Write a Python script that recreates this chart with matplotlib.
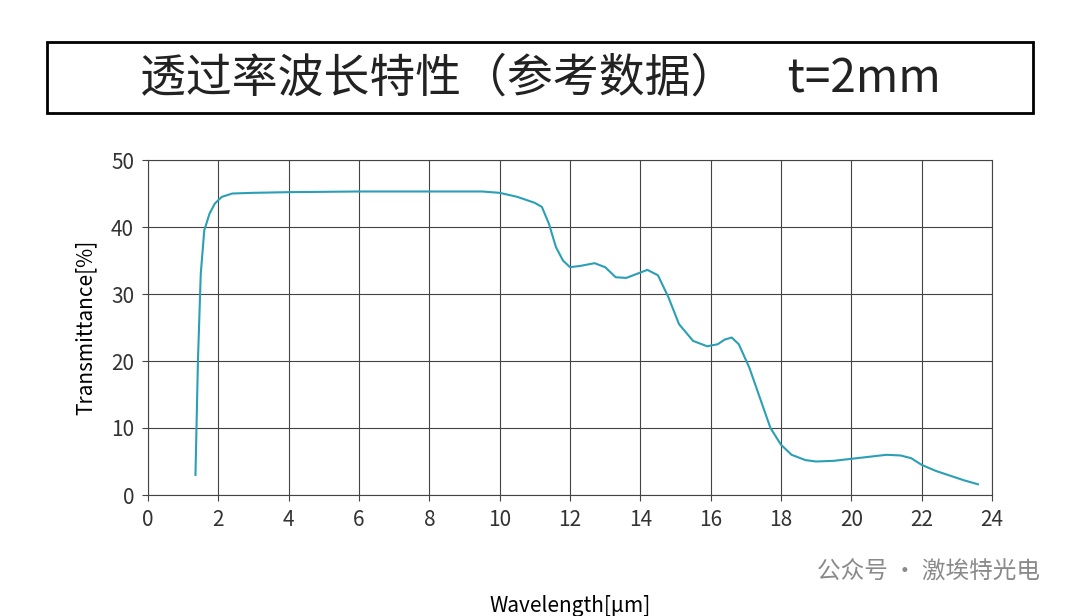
import matplotlib
matplotlib.use("Agg")
import matplotlib.pyplot as plt
from matplotlib.patches import Rectangle

plt.rcParams["font.family"] = ["Noto Sans CJK SC", "DejaVu Sans"]

# Data
wavelength = [1.35, 1.42, 1.5, 1.6, 1.75, 1.9, 2.1, 2.4, 3.0, 4.0, 6.0, 8.0, 9.5,
              10.0, 10.5, 11.0, 11.2, 11.4, 11.6, 11.8, 12.0, 12.3, 12.7, 13.0,
              13.3, 13.6, 13.9, 14.2, 14.5, 14.8, 15.1, 15.5, 15.9, 16.2, 16.4,
              16.6, 16.8, 17.1, 17.4, 17.7, 18.0, 18.3, 18.7, 19.0, 19.5, 20.0,
              20.5, 21.0, 21.4, 21.7, 22.0, 22.4, 22.8, 23.2, 23.6]
transmittance = [3.0, 20.0, 33.0, 39.5, 42.0, 43.5, 44.5, 45.0, 45.1, 45.2, 45.3,
                 45.3, 45.3, 45.1, 44.5, 43.6, 43.0, 40.5, 37.0, 35.0, 34.0,
                 34.2, 34.6, 34.0, 32.5, 32.4, 33.0, 33.6, 32.8, 29.5, 25.5,
                 23.0, 22.2, 22.5, 23.2, 23.5, 22.5, 19.0, 14.5, 10.0, 7.5, 6.0,
                 5.2, 5.0, 5.1, 5.4, 5.7, 6.0, 5.9, 5.5, 4.5, 3.6, 2.9, 2.2, 1.6]

xticks = list(range(0, 25, 2))
yticks = list(range(0, 51, 10))

fig = plt.figure(figsize=(10.8, 6.16), dpi=100)

# title box
fig.patches.append(Rectangle((47 / 1080, 1 - 113 / 616), 986 / 1080, 71 / 616,
                             transform=fig.transFigure, fill=False,
                             edgecolor="black", linewidth=2))
fig.text(0.5, 1 - 78 / 616, "透过率波长特性（参考数据）     t=2mm",
         ha="center", va="center", fontsize=33, color="#222222")

ax = fig.add_axes([148 / 1080, 1 - 495 / 616, 844 / 1080, 335 / 616])
ax.plot(wavelength, transmittance, color="#2a9fb5", linewidth=1.5)
ax.set_xlim(0, 24)
ax.set_ylim(0, 50)
ax.set_xticks(xticks)
ax.set_yticks(yticks)
ax.grid(True, color="#444444", linewidth=0.8)
ax.tick_params(labelsize=15, length=4, pad=6, color="#444444",
               labelcolor="#333333")
for s in ax.spines.values():
    s.set_color("#444444")
ax.set_xlabel("Wavelength[μm]", fontsize=15, labelpad=46)
ax.set_ylabel("Transmittance[%]", fontsize=15, labelpad=10)

fig.text(1040 / 1080, 1 - 572 / 616, "公众号 · 激埃特光电", ha="right",
         va="center", fontsize=17, color="#8a8a8a")

fig.savefig("out.png", dpi=100)
